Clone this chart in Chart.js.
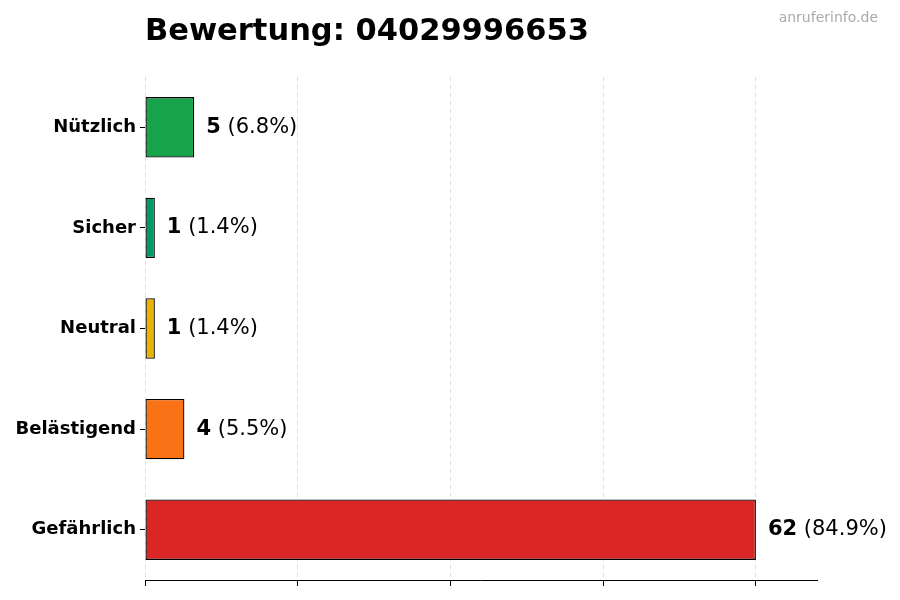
<!DOCTYPE html>
<html>
<head>
<meta charset="utf-8">
<script src="https://cdn.jsdelivr.net/npm/chart.js@4"></script>
<style>
  body { margin: 0; background: #fff; }
  #wrap { width: 900px; height: 600px; }
</style>
</head>
<body>
<div id="wrap"><canvas id="grafico" width="900" height="600"></canvas></div>
<script>
// Daten
const kategorien = ['Nützlich', 'Sicher', 'Neutral', 'Belästigend', 'Gefährlich'];
const anzahl = [5, 1, 1, 4, 62];
const farben = ['#16a34a', '#059669', '#eab308', '#f97316', '#dc2626'];
const xTicks = [0, 15.5, 31, 46.5, 62];
const xMax = 68.2;
const titel = 'Bewertung: 04029996653';
const quelle = 'anruferinfo.de';

const FONT = '"DejaVu Sans", sans-serif';
const gesamt = anzahl.reduce((a, b) => a + b, 0);

// Titel, Quelle und Werte neben den Balken
const beschriftung = {
    id: 'beschriftung',
    afterDraw(chart) {
        const c = chart.ctx;
        const area = chart.chartArea;
        c.save();
        c.fillStyle = '#000';
        c.textBaseline = 'alphabetic';
        c.textAlign = 'left';
        c.font = 'bold 30.5px ' + FONT;
        c.fillText(titel, area.left, 40);

        c.fillStyle = '#aaaaaa';
        c.textAlign = 'right';
        c.font = '14px ' + FONT;
        c.fillText(quelle, 878, 22);

        const meta = chart.getDatasetMeta(0);
        c.textAlign = 'left';
        c.textBaseline = 'middle';
        meta.data.forEach((bar, i) => {
            const wert = String(anzahl[i]);
            const proz = ' (' + (anzahl[i] / gesamt * 100).toFixed(1) + '%)';
            let x = bar.x + 12;
            c.fillStyle = '#000';
            c.font = 'bold 21px ' + FONT;
            c.fillText(wert, x, bar.y);
            x += c.measureText(wert).width;
            c.font = '21px ' + FONT;
            c.fillText(proz, x, bar.y);
        });
        c.restore();
    }
};

const ctx = document.getElementById('grafico').getContext('2d');
const grafico = new Chart(ctx, {
    type: 'bar',
    data: {
        labels: kategorien,
        datasets: [{
            data: anzahl,
            backgroundColor: farben,
            borderColor: '#000',
            borderWidth: 1.3,
            borderSkipped: false,
            barPercentage: 0.6,
            categoryPercentage: 1.0
        }]
    },
    options: {
        indexAxis: 'y',
        responsive: false,
        animation: false,
        layout: { padding: { top: 77, right: 83, left: 0, bottom: 0 } },
        plugins: {
            legend: { display: false },
            tooltip: { enabled: false }
        },
        scales: {
            x: {
                min: 0,
                max: xMax,
                z: 1,
                afterBuildTicks: (scale) => {
                    scale.ticks = xTicks.map(v => ({ value: v }));
                },
                afterFit: (scale) => { scale.height = 20; },
                ticks: { display: false },
                grid: {
                    color: 'rgba(0,0,0,0.13)',
                    tickColor: '#000',
                    tickLength: 6,
                    tickWidth: 1,
                    lineWidth: 1
                },
                border: { display: true, color: '#000', width: 1, dash: [4, 4] }
            },
            y: {
                afterFit: (scale) => { scale.width = 145; },
                grid: {
                    offset: false,
                    drawOnChartArea: false,
                    tickColor: '#000',
                    tickLength: 5
                },
                border: { display: false },
                ticks: {
                    color: '#000',
                    padding: 4,
                    font: { family: FONT, size: 18, weight: 'bold' }
                }
            }
        }
    },
    plugins: [beschriftung]
});
</script>
</body>
</html>
